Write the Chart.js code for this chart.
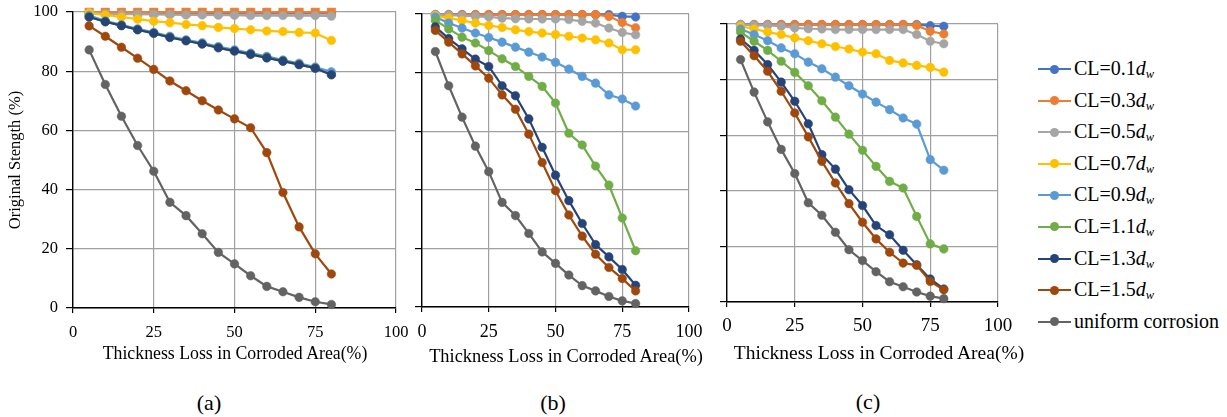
<!DOCTYPE html>
<html>
<head>
<meta charset="utf-8">
<script src="https://cdn.jsdelivr.net/npm/chart.js@4.4.0/dist/chart.umd.min.js"></script>
<style>
  body { margin: 0; background: #fff; width: 1227px; height: 417px; position: relative; overflow: hidden;
         font-family: "Liberation Serif", "Times New Roman", serif; color: #000; }
  canvas { position: absolute; top: 0; }
  .txt { position: absolute; white-space: nowrap; transform: translate(-50%, -50%); line-height: 1; }
  #legend { position: absolute; left: 1038px; top: 53px; }
  .row { position: relative; height: 31.6px; font-size: 20px; line-height: 31.6px; padding-left: 36px; white-space: nowrap; }
  .row .ln { position: absolute; left: 0; top: 15px; width: 33px; height: 2px; }
  .row .mk { position: absolute; left: 12px; top: 11.5px; width: 9px; height: 9px; border-radius: 50%; }
  .row sub { font-size: 12.5px; font-style: italic; vertical-align: -3px; line-height: 0; }
</style>
</head>
<body>
<canvas id="pa" width="410" height="370" style="left:0px"></canvas>
<canvas id="pb" width="305" height="370" style="left:400px"></canvas>
<canvas id="pc" width="310" height="370" style="left:705px"></canvas>

<div class="txt" style="left:235px;top:354px;font-size:17.8px">Thickness Loss in Corroded Area(%)</div>
<div class="txt" style="left:566px;top:356px;font-size:18.4px">Thickness Loss in Corroded Area(%)</div>
<div class="txt" style="left:879px;top:353px;font-size:19.5px">Thickness Loss in Corroded Area(%)</div>
<div class="txt" style="left:209px;top:403px;font-size:22px">(a)</div>
<div class="txt" style="left:553px;top:403px;font-size:22px">(b)</div>
<div class="txt" style="left:868px;top:402px;font-size:22px">(c)</div>
<div id="legend"></div>

<script>
// thickness loss (%) at each point
const xs = [5, 10, 15, 20, 25, 30, 35, 40, 45, 50, 55, 60, 65, 70, 75, 80];
const xTicks = [0, 25, 50, 75, 100];
const yTicks = [0, 20, 40, 60, 80, 100];

const names = ['0.1', '0.3', '0.5', '0.7', '0.9', '1.1', '1.3', '1.5'];
const colors = ['#4472c4', '#ed7d31', '#a5a5a5', '#ffc000', '#5b9bd5', '#70ad47', '#264478', '#9e480e', '#636363'];

const uniform = [87.2, 75.5, 64.8, 54.9, 46.2, 35.7, 31.2, 25.1, 18.8, 14.9, 10.9, 7.3, 5.5, 3.6, 2.1, 1.2];

// (a)
const a01 = [99.5, 99.5, 99.5, 99.5, 99.5, 99.5, 99.5, 99.5, 99.5, 99.5, 99.5, 99.5, 99.5, 99.5, 99.5, 99.5];
const a03 = [99.9, 99.9, 99.9, 99.9, 99.9, 99.9, 99.9, 99.9, 99.9, 99.9, 99.9, 99.9, 99.9, 99.9, 99.9, 99.9];
const a05 = [99.8, 99.5, 99.3, 99.3, 99.2, 99.1, 99.0, 99.0, 98.9, 98.9, 98.8, 98.8, 98.8, 98.8, 98.8, 98.6];
const a07 = [99.7, 99.0, 98.3, 97.6, 96.9, 96.4, 95.8, 95.4, 94.8, 94.4, 94.0, 93.6, 93.4, 93.1, 92.9, 90.4];
const a09 = [98.8, 97.0, 95.7, 94.3, 93.1, 91.8, 90.6, 89.6, 88.3, 87.2, 86.1, 85.0, 83.8, 82.7, 81.4, 79.8];
const a11 = [98.3, 96.7, 95.4, 94.0, 92.8, 91.5, 90.3, 89.2, 88.0, 86.8, 85.7, 84.6, 83.4, 82.3, 81.0, 78.8];
const a13 = [98.3, 96.7, 95.4, 94.0, 92.8, 91.4, 90.3, 89.2, 87.9, 86.8, 85.7, 84.5, 83.4, 82.2, 81.0, 78.8];
const a15 = [95.3, 91.8, 88.1, 84.4, 80.6, 76.7, 73.4, 70.0, 66.9, 63.9, 60.9, 52.5, 39.0, 27.4, 18.3, 11.5];

// (b)
const b01 = [99.8, 99.8, 99.8, 99.8, 99.8, 99.8, 99.8, 99.8, 99.8, 99.8, 99.8, 99.8, 99.8, 99.8, 99.2, 99.0];
const b03 = [99.8, 99.8, 99.8, 99.8, 99.8, 99.8, 99.8, 99.8, 99.8, 99.8, 99.8, 99.8, 99.8, 99.2, 97.1, 95.3];
const b05 = [99.8, 99.6, 99.4, 99.2, 99.0, 98.6, 98.4, 98.3, 98.3, 98.3, 98.1, 97.5, 96.9, 95.2, 93.7, 92.9];
const b07 = [99.4, 98.6, 97.8, 96.9, 96.1, 95.4, 94.6, 94.0, 93.5, 93.0, 92.4, 91.8, 91.2, 90.1, 87.8, 87.8];
const b09 = [99.0, 96.9, 95.2, 93.5, 92.0, 90.4, 88.7, 87.0, 85.3, 83.5, 81.2, 78.7, 76.4, 72.4, 71.0, 68.6];
const b11 = [97.8, 94.9, 92.1, 90.1, 87.5, 84.7, 82.1, 78.7, 75.3, 69.6, 59.3, 55.3, 48.1, 41.6, 30.4, 19.2];
const b13 = [95.6, 91.6, 88.1, 84.6, 82.1, 75.5, 72.1, 64.2, 54.5, 45.0, 36.3, 28.5, 21.3, 17.1, 12.8, 7.4];
const b15 = [94.4, 90.4, 86.4, 82.3, 78.1, 72.4, 67.5, 59.0, 49.3, 39.7, 31.4, 24.2, 18.0, 13.5, 9.7, 5.5];

// (c)
const c01 = [99.8, 99.8, 99.8, 99.8, 99.8, 99.8, 99.8, 99.8, 99.8, 99.8, 99.8, 99.8, 99.8, 99.8, 99.4, 99.2];
const c03 = [99.8, 99.8, 99.8, 99.8, 99.8, 99.8, 99.8, 99.8, 99.8, 99.8, 99.8, 99.8, 99.8, 99.5, 97.4, 96.4];
const c05 = [99.8, 99.5, 99.5, 99.2, 98.6, 98.3, 98.2, 98.0, 98.0, 98.0, 98.0, 98.0, 98.0, 96.2, 93.8, 92.9];
const c07 = [99.2, 98.2, 97.1, 96.2, 95.0, 94.0, 92.9, 91.9, 91.0, 89.9, 89.3, 86.9, 86.0, 85.1, 84.4, 82.7];
const c09 = [98.2, 96.2, 94.0, 91.4, 89.3, 86.3, 83.9, 80.9, 77.8, 74.8, 71.9, 69.2, 66.2, 64.0, 51.2, 47.4];
const c11 = [97.1, 93.8, 90.5, 86.6, 82.6, 77.8, 72.4, 66.5, 60.4, 54.6, 48.8, 43.4, 41.0, 30.8, 20.9, 19.1];
const c13 = [94.6, 90.5, 85.4, 79.1, 72.2, 64.1, 53.0, 47.8, 40.4, 34.7, 27.5, 24.2, 18.6, 13.4, 8.3, 4.7];
const c15 = [93.8, 88.6, 83.0, 75.8, 68.0, 59.4, 50.6, 42.8, 35.4, 28.7, 22.7, 17.9, 14.0, 13.2, 7.4, 4.4];

const FONT = '"Liberation Serif", "Times New Roman", serif';

function makePanel(id, series, cfg) {
  const datasets = series.map((vals, i) => ({
    data: xs.map((x, k) => ({ x: x, y: vals[k] })),
    borderColor: colors[i],
    backgroundColor: colors[i],
    pointBackgroundColor: colors[i],
    pointBorderColor: colors[i],
    borderWidth: 2.2,
    pointRadius: (cfg.squareOrange && i === 1) ? 6 : 4.3,
    pointStyle: (cfg.squareOrange && i === 1) ? 'rect' : 'circle',
    pointBorderWidth: 0.5,
    tension: 0,
    clip: false,
    order: series.length - i   // later series on top, like the original
  }));

  const pad = { top: cfg.area.top, right: cfg.w - cfg.area.right, left: 0, bottom: 0 };
  const options = {
    responsive: false,
    animation: false,
    events: [],
    layout: { autoPadding: false, padding: pad },
    plugins: { legend: { display: false }, tooltip: { enabled: false } },
    scales: {
      x: {
        type: 'linear', min: 0, max: 100,
        afterBuildTicks: s => { s.ticks = xTicks.map(v => ({ value: v })); },
        ticks: { color: '#000', font: { family: FONT, size: cfg.tickSize }, padding: cfg.xPad, maxRotation: 0, autoSkip: false },
        grid: { color: '#a0a0a0', lineWidth: 1.2, tickColor: '#000', tickLength: 5 },
        border: { color: '#000', width: 1.4 },
        afterFit: s => { s.height = cfg.xH; s.paddingLeft = 0; s.paddingRight = 0; }
      },
      y: {
        type: 'linear', min: 0, max: 100,
        afterBuildTicks: s => { s.ticks = yTicks.map(v => ({ value: v })); },
        ticks: { display: cfg.yLabels, color: '#000', font: { family: FONT, size: 16.5 }, padding: 8 },
        grid: { color: '#a0a0a0', lineWidth: 1.2, tickColor: '#000', tickLength: 7 },
        border: { color: '#000', width: 1.4 },
        title: { display: cfg.yLabels, text: 'Original Stength (%)', color: '#000', font: { family: FONT, size: 16.5 }, padding: { top: 6, bottom: 0 } },
        afterFit: s => { s.width = cfg.yW; s.paddingTop = 0; s.paddingBottom = 0; }
      }
    }
  };

  const chart = new Chart(document.getElementById(id), { type: 'line', data: { datasets: datasets }, options: options });

  // nudge the layout until the plot area sits where the original one does
  for (let pass = 0; pass < 3; pass++) {
    const ca = chart.chartArea;
    const p = chart.config.options.layout.padding;
    p.top += cfg.area.top - ca.top;
    p.right += ca.right - cfg.area.right;
    cfg.yW += cfg.area.left - ca.left;
    cfg.xH += ca.bottom - cfg.area.bottom;
    chart.update();
  }
  return chart;
}

makePanel('pa', [a01, a03, a05, a07, a09, a11, a13, a15, uniform],
  { w: 410, area: { left: 73, top: 12, right: 396, bottom: 308 }, xH: 62, yW: 73, yLabels: true, tickSize: 16.5, xPad: 10, squareOrange: true });
makePanel('pb', [b01, b03, b05, b07, b09, b11, b13, b15, uniform],
  { w: 305, area: { left: 22, top: 14, right: 289, bottom: 307 }, xH: 63, yW: 22, yLabels: false, tickSize: 18, xPad: 9 });
makePanel('pc', [c01, c03, c05, c07, c09, c11, c13, c15, uniform],
  { w: 310, area: { left: 22, top: 24, right: 293, bottom: 302 }, xH: 68, yW: 22, yLabels: false, tickSize: 19, xPad: 8 });

// legend
const legend = document.getElementById('legend');
const labels = names.map(n => 'CL=' + n + '<i>d</i><sub>w</sub>').concat(['uniform corrosion']);
labels.forEach((lab, i) => {
  const row = document.createElement('div');
  row.className = 'row';
  row.innerHTML = '<span class="ln" style="background:' + colors[i] + '"></span>' +
                  '<span class="mk" style="background:' + colors[i] + '"></span>' + lab;
  legend.appendChild(row);
});
</script>
</body>
</html>
